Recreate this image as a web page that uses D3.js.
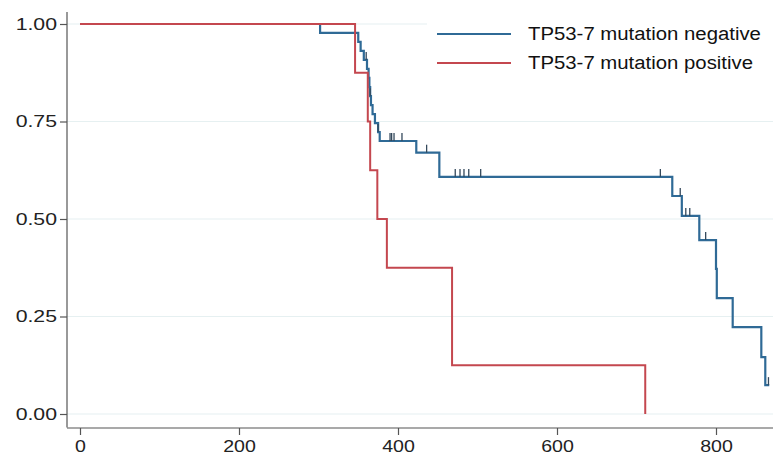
<!DOCTYPE html>
<html>
<head>
<meta charset="utf-8">
<script src="https://cdn.jsdelivr.net/npm/d3@7"></script>
<style>
  body { margin: 0; background: #fff; }
  svg { display: block; font-family: "Liberation Sans", Arial, sans-serif; }
  .eixo path, .eixo line { stroke: #555; stroke-width: 1.2; }
  .eixo text { fill: #222; font-size: 17px; }
  .grade line { stroke: #e6f0f1; stroke-width: 1.2; }
  .legenda text { font-size: 18px; fill: #111; }
</style>
</head>
<body>
<svg id="grafico"></svg>
<script>
// dados (dias, sobrevida apos o evento)
const negTempos = [302, 350, 353, 357, 361, 363, 364, 365, 366, 368, 371, 375, 377, 423, 452, 745, 757, 779, 800, 801, 821, 857, 862];
const negSobrevida = [0.977, 0.954, 0.931, 0.908, 0.885, 0.862, 0.838, 0.815, 0.792, 0.769, 0.746, 0.723, 0.700, 0.670, 0.608, 0.559, 0.508, 0.446, 0.372, 0.297, 0.223, 0.146, 0.074];
const negFim = 867;
const negCensura = [360, 365, 375, 390, 392, 395, 405, 436, 472, 478, 483, 489, 504, 730, 755, 762, 767, 787, 866];

const posTempos = [346, 362, 365, 374, 386, 468, 711];
const posSobrevida = [0.875, 0.75, 0.625, 0.5, 0.375, 0.125, 0];
const posFim = 711;

const ticksX = [0, 200, 400, 600, 800];
const ticksY = [0, 0.25, 0.5, 0.75, 1];
const rotulos = ['TP53-7 mutation negative', 'TP53-7 mutation positive'];
const cores = ['#2f6a96', '#c4474f'];

const largura = 773, altura = 461;
const svg = d3.select('#grafico').attr('width', largura).attr('height', altura);

const x = d3.scaleLinear().domain([0, 800]).range([80, 716]);
const y = d3.scaleLinear().domain([0, 1]).range([414, 24]);

const eixoEsq = 67, eixoBase = 428;

// a figura original tem o texto um pouco esticado na horizontal
function estica(sel, fator) {
  sel.each(function() {
    const w = this.getComputedTextLength();
    d3.select(this).attr('textLength', w * fator).attr('lengthAdjust', 'spacingAndGlyphs');
  });
}

// linhas de grade
svg.append('g').attr('class', 'grade')
  .selectAll('line').data(ticksY).enter().append('line')
  .attr('x1', eixoEsq).attr('x2', largura)
  .attr('y1', d => y(d)).attr('y2', d => y(d));

// eixos
const eixoY = d3.axisLeft(y).tickValues(ticksY).tickFormat(d3.format('.2f')).tickSize(7).tickSizeOuter(0).tickPadding(3);
const gY = svg.append('g').attr('class', 'eixo')
  .attr('transform', `translate(${eixoEsq},0)`)
  .call(eixoY);
gY.select('.domain').attr('d', `M0,12V${eixoBase - 0.5}`);
estica(gY.selectAll('text'), 1.25);

const eixoX = d3.axisBottom(x).tickValues(ticksX).tickFormat(d3.format('d')).tickSize(7).tickSizeOuter(0).tickPadding(5);
const gX = svg.append('g').attr('class', 'eixo')
  .attr('transform', `translate(0,${eixoBase})`)
  .call(eixoX);
gX.select('.domain').attr('d', `M${eixoEsq},0H${largura}`);
estica(gX.selectAll('text'), 1.15);

// curvas de Kaplan-Meier
function pontos(tempos, sobrevida, fim) {
  const p = [[0, 1]];
  tempos.forEach((t, i) => p.push([t, sobrevida[i]]));
  p.push([fim, sobrevida[sobrevida.length - 1]]);
  return p;
}
function sobrevidaEm(tempos, sobrevida, t) {
  let s = 1;
  tempos.forEach((ti, i) => { if (ti <= t) s = sobrevida[i]; });
  return s;
}

const linha = d3.line().x(d => x(d[0])).y(d => y(d[1])).curve(d3.curveStepAfter);

svg.append('path')
  .datum(pontos(negTempos, negSobrevida, negFim))
  .attr('d', linha)
  .attr('fill', 'none').attr('stroke', cores[0]).attr('stroke-width', 2.2);

svg.append('path')
  .datum(pontos(posTempos, posSobrevida, posFim))
  .attr('d', linha)
  .attr('fill', 'none').attr('stroke', cores[1]).attr('stroke-width', 2);

// marcas de censura
svg.append('g').selectAll('line').data(negCensura).enter().append('line')
  .attr('x1', d => x(d)).attr('x2', d => x(d))
  .attr('y1', d => y(sobrevidaEm(negTempos, negSobrevida, d)))
  .attr('y2', d => y(sobrevidaEm(negTempos, negSobrevida, d)) - 8)
  .attr('stroke', '#34495c').attr('stroke-width', 1.3);

// legenda
const leg = svg.append('g').attr('class', 'legenda');
leg.append('rect').attr('x', 427).attr('y', 10).attr('width', largura - 427).attr('height', 80).attr('fill', '#fff');
rotulos.forEach((r, i) => {
  const yy = 34 + i * 29;
  leg.append('line').attr('x1', 437).attr('x2', 511).attr('y1', yy).attr('y2', yy)
    .attr('stroke', cores[i]).attr('stroke-width', 2.2);
  leg.append('text').attr('x', 528).attr('y', yy).attr('dy', '0.35em').text(r);
});
estica(leg.selectAll('text'), 1.13);
</script>
</body>
</html>
